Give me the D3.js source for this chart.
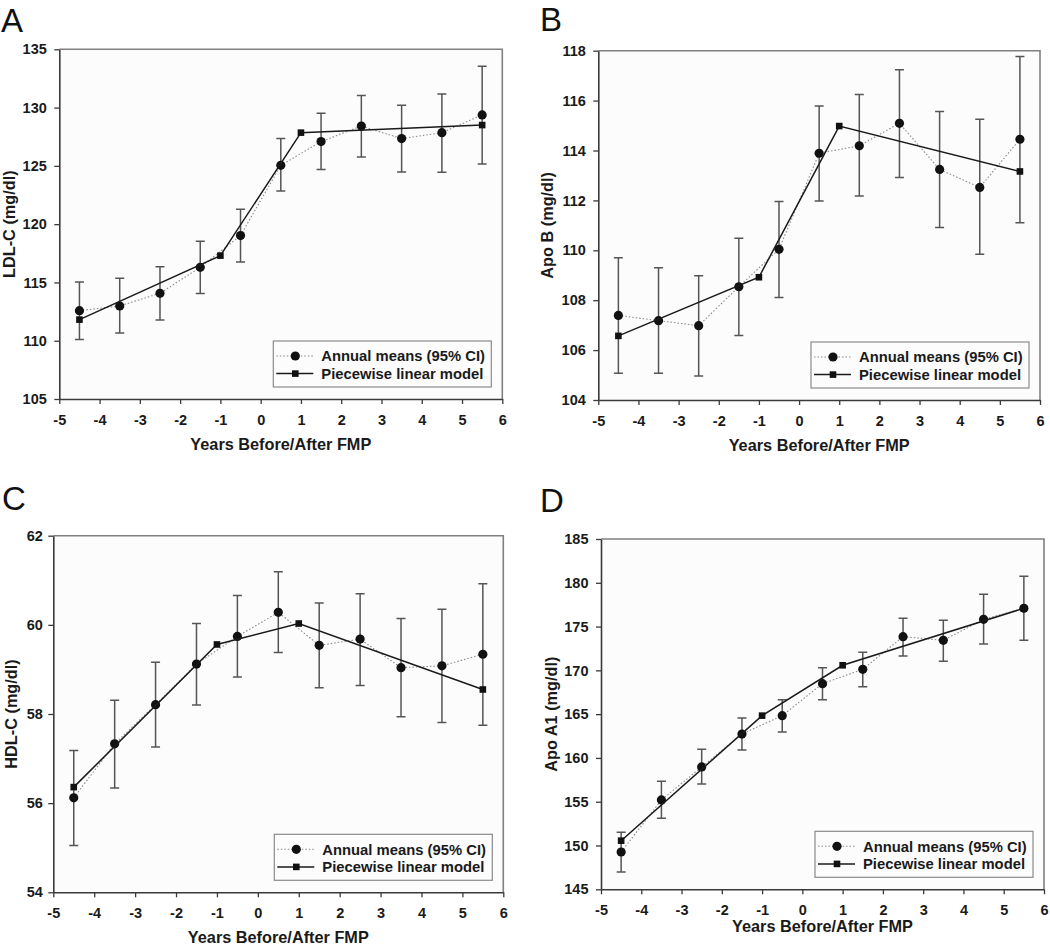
<!DOCTYPE html>
<html>
<head>
<meta charset="utf-8">
<script src="https://cdn.jsdelivr.net/npm/d3@7"></script>
<style>
  html, body { margin: 0; padding: 0; background: #fff; }
  svg { display: block; font-family: "Liberation Sans", Arial, sans-serif; }
</style>
</head>
<body>
<svg id="chart" width="1050" height="947"></svg>
<script>
// ---------- DATA ----------
const years = [-4.5, -3.5, -2.5, -1.5, -0.5, 0.5, 1.5, 2.5, 3.5, 4.5, 5.5];
const modelYears = [-4.5, -1, 1, 5.5];
const xTicks = [-5, -4, -3, -2, -1, 0, 1, 2, 3, 4, 5, 6];

// A: LDL-C
const ldlMean  = [112.58, 112.98, 114.07, 116.30, 119.02, 125.05, 127.08, 128.42, 127.34, 127.85, 129.37];
const ldlLo    = [110.10, 110.67, 111.78, 114.04, 116.76, 122.85, 124.68, 125.76, 124.48, 124.45, 125.16];
const ldlHi    = [115.04, 115.35, 116.35, 118.53, 121.27, 127.34, 129.51, 131.03, 130.20, 131.17, 133.54];
const ldlModel = [111.81, 117.30, 127.85, 128.50];
const ldlTicks = [105, 110, 115, 120, 125, 130, 135];

// B: Apo B
const apoBMean  = [107.39, 107.18, 106.98, 108.54, 110.04, 113.89, 114.19, 115.09, 113.24, 112.52, 114.45];
const apoBLo    = [105.07, 105.07, 104.96, 106.59, 108.11, 111.98, 112.18, 112.92, 110.91, 109.84, 111.10];
const apoBHi    = [109.70, 109.30, 108.98, 110.48, 111.96, 115.78, 116.24, 117.24, 115.56, 115.25, 117.77];
const apoBModel = [106.57, 108.92, 114.98, 113.16];
const apoBTicks = [104, 106, 108, 110, 112, 114, 116, 118];

// C: HDL-C
const hdlMean  = [56.12, 57.33, 58.21, 59.12, 59.74, 60.28, 59.54, 59.68, 59.04, 59.08, 59.34];
const hdlLo    = [55.05, 56.34, 57.26, 58.20, 58.83, 59.38, 58.59, 58.64, 57.94, 57.81, 57.75];
const hdlHi    = [57.18, 58.31, 59.16, 60.03, 60.66, 61.19, 60.49, 60.70, 60.14, 60.35, 60.92];
const hdlModel = [56.36, 59.56, 60.03, 58.55];
const hdlTicks = [54, 56, 58, 60, 62];

// D: Apo A1
const apoA1Mean  = [149.26, 155.20, 158.97, 162.73, 164.83, 168.48, 170.12, 173.85, 173.43, 175.83, 177.09];
const apoA1Lo    = [146.98, 153.10, 157.03, 160.91, 162.96, 166.65, 168.14, 171.64, 171.04, 173.01, 173.43];
const apoA1Hi    = [151.51, 157.33, 160.99, 164.56, 166.65, 170.31, 172.06, 175.95, 175.72, 178.69, 180.74];
const apoA1Model = [150.55, 164.83, 170.58, 177.09];
const apoA1Ticks = [145, 150, 155, 160, 165, 170, 175, 180, 185];

const legendLabels = ["Annual means (95% CI)", "Piecewise linear model"];
const xTitle = "Years Before/After FMP";

// ---------- LAYOUT ----------
const panels = [
  { letter: "A", lx: 1,   ly: 32,  title: "LDL-C (mg/dl)",  mean: ldlMean,   lo: ldlLo,   hi: ldlHi,   model: ldlModel,   ticks: ldlTicks,
    l: 59.3, r: 502.3, t: 49.3, b: 399, ytx: 44.8, xtb: 51, ylp: 7.5 },
  { letter: "B", lx: 540, ly: 31,  title: "Apo B (mg/dl)",  mean: apoBMean,  lo: apoBLo,  hi: apoBHi,  model: apoBModel,  ticks: apoBTicks,
    l: 598.3, r: 1040, t: 50.7, b: 400, ytx: 45.3, xtb: 50.5, ylp: 7.5 },
  { letter: "C", lx: 2,   ly: 510, title: "HDL-C (mg/dl)",  mean: hdlMean,   lo: hdlLo,   hi: hdlHi,   model: hdlModel,   ticks: hdlTicks,
    l: 53.3, r: 503.3, t: 535.7, b: 892.3, ytx: 36.8, xtb: 51, ylp: 5.5 },
  { letter: "D", lx: 540, ly: 511.5, title: "Apo A1 (mg/dl)", mean: apoA1Mean, lo: apoA1Lo, hi: apoA1Hi, model: apoA1Model, ticks: apoA1Ticks,
    l: 601, r: 1044, t: 539, b: 889.3, ytx: 44.5, xtb: 43, ylp: 7.5 }
];

const svg = d3.select("#chart");

panels.forEach(p => {
  const g = svg.append("g");
  const x = d3.scaleLinear().domain([-5, 6]).range([p.l, p.r]);
  const y = d3.scaleLinear().domain([p.ticks[0], p.ticks[p.ticks.length - 1]]).range([p.b, p.t]);

  // panel letter
  g.append("text").attr("x", p.lx).attr("y", p.ly)
    .attr("font-size", 33).attr("fill", "#111").text(p.letter);

  // plot background
  g.append("rect").attr("x", p.l).attr("y", p.t).attr("width", p.r - p.l).attr("height", p.b - p.t)
    .attr("fill", "#fcfcfc");

  // frame top/right
  g.append("path")
    .attr("d", `M${p.l},${p.t}H${p.r}V${p.b}`)
    .attr("fill", "none").attr("stroke", "#808080").attr("stroke-width", 1.6);

  // axes
  const xAxis = d3.axisBottom(x).tickValues(xTicks).tickFormat(d3.format("d"))
    .tickSize(5).tickSizeOuter(0).tickPadding(10.7);
  const yAxis = d3.axisLeft(y).tickValues(p.ticks).tickFormat(d3.format("d"))
    .tickSize(5).tickSizeOuter(0).tickPadding(p.ylp);

  const gx = g.append("g").attr("transform", `translate(0,${p.b})`).call(xAxis);
  const gy = g.append("g").attr("transform", `translate(${p.l},0)`).call(yAxis);
  [gx, gy].forEach(ax => {
    ax.select(".domain").attr("stroke", "#3a3a3a").attr("stroke-width", 1.6);
    ax.selectAll(".tick line").attr("stroke", "#3a3a3a").attr("stroke-width", 1.3);
    ax.selectAll(".tick text").attr("font-size", 14.5).attr("font-weight", "bold")
      .attr("fill", "#1a1a1a").attr("font-family", "Liberation Sans, Arial, sans-serif");
  });
  gx.selectAll(".tick text").text(d => d < 0 ? "-" + Math.abs(d) : d);

  // axis titles
  g.append("text")
    .attr("x", (p.l + p.r) / 2).attr("y", p.b + p.xtb)
    .attr("text-anchor", "middle").attr("font-size", 16.3).attr("font-weight", "bold")
    .attr("fill", "#1a1a1a").text(xTitle);
  g.append("text")
    .attr("transform", `translate(${p.l - p.ytx},${(p.t + p.b) / 2}) rotate(-90)`)
    .attr("text-anchor", "middle").attr("font-size", 16.3).attr("font-weight", "bold")
    .attr("fill", "#1a1a1a").text(p.title);

  const pts = years.map((yr, i) => ({ x: yr, m: p.mean[i], lo: p.lo[i], hi: p.hi[i] }));
  const mpts = modelYears.map((yr, i) => ({ x: yr, v: p.model[i] }));

  // error bars
  const eb = g.append("g").attr("stroke", "#555").attr("stroke-width", 1.5).attr("fill", "none");
  eb.selectAll("path").data(pts).join("path")
    .attr("d", d => {
      const cx = x(d.x), y1 = y(d.hi), y2 = y(d.lo);
      return `M${cx},${y1}V${y2}M${cx - 4.5},${y1}H${cx + 4.5}M${cx - 4.5},${y2}H${cx + 4.5}`;
    });

  // dotted line of means
  const line = d3.line().x(d => x(d.x)).y(d => y(d.m));
  g.append("path").datum(pts).attr("d", line)
    .attr("fill", "none").attr("stroke", "#8a8a8a").attr("stroke-width", 1.1)
    .attr("stroke-dasharray", "1.5,2");

  // circles
  g.selectAll("circle.mean").data(pts).join("circle").attr("class", "mean")
    .attr("cx", d => x(d.x)).attr("cy", d => y(d.m)).attr("r", 4.6).attr("fill", "#111");

  // model line
  const mline = d3.line().x(d => x(d.x)).y(d => y(d.v));
  g.append("path").datum(mpts).attr("d", mline)
    .attr("fill", "none").attr("stroke", "#1a1a1a").attr("stroke-width", 1.5);
  g.selectAll("rect.model").data(mpts).join("rect").attr("class", "model")
    .attr("x", d => x(d.x) - 3.3).attr("y", d => y(d.v) - 3.3)
    .attr("width", 6.6).attr("height", 6.6).attr("fill", "#111");

  // legend
  const lw = 218, lh = 46;
  const lx = p.r - 11 - lw, ly = p.b - 12 - lh;
  const lg = g.append("g").attr("transform", `translate(${lx},${ly})`);
  lg.append("rect").attr("x", 0).attr("y", 0).attr("width", lw).attr("height", lh)
    .attr("fill", "#fcfcfc").attr("stroke", "#8a8a8a").attr("stroke-width", 1.2);
  // row 1
  lg.append("line").attr("x1", 3).attr("x2", 40).attr("y1", 15).attr("y2", 15)
    .attr("stroke", "#8a8a8a").attr("stroke-width", 1.1).attr("stroke-dasharray", "1.5,2");
  lg.append("circle").attr("cx", 22).attr("cy", 15).attr("r", 4.6).attr("fill", "#111");
  // row 2
  lg.append("line").attr("x1", 3).attr("x2", 40).attr("y1", 32.6).attr("y2", 32.6)
    .attr("stroke", "#1a1a1a").attr("stroke-width", 1.5);
  lg.append("rect").attr("x", 22 - 3.3).attr("y", 32.6 - 3.3).attr("width", 6.6).attr("height", 6.6).attr("fill", "#111");
  lg.selectAll("text").data(legendLabels).join("text")
    .attr("x", 48).attr("y", (d, i) => i === 0 ? 15 : 32.6).attr("dy", "0.36em")
    .attr("font-size", 14.8).attr("font-weight", "bold").attr("fill", "#1a1a1a")
    .text(d => d);
});
</script>
</body>
</html>
